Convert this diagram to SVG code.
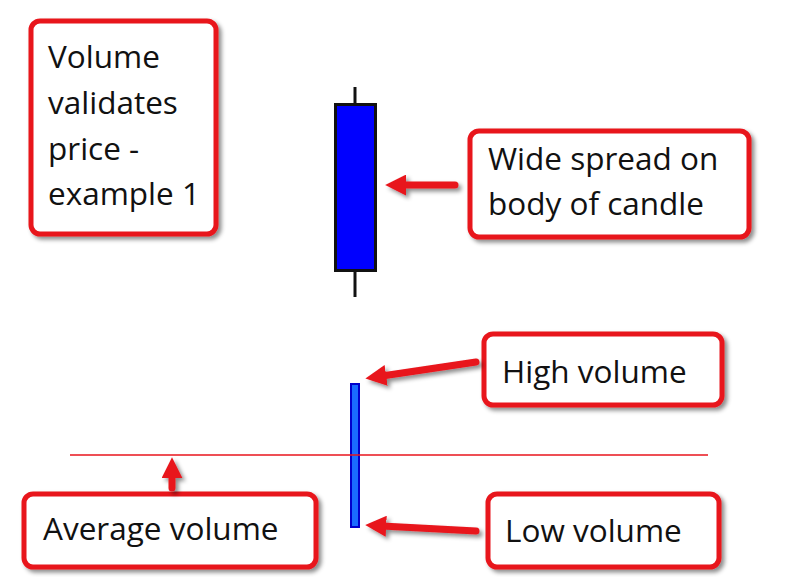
<svg xmlns="http://www.w3.org/2000/svg" width="799" height="577" viewBox="0 0 799 577">
<style>
.box{fill:#fff;stroke:#e8141c;stroke-width:5;filter:url(#sh)}
.t{font-family:"Open Sans","Liberation Sans",sans-serif;font-size:31.5px;fill:#111}
.arr{stroke:#e8141c;stroke-width:7;stroke-linecap:round;fill:none;marker-end:url(#ah)}
</style>
<defs>
<filter id="sh" x="-20%" y="-20%" width="140%" height="140%">
<feDropShadow dx="3" dy="3" stdDeviation="2" flood-color="#000" flood-opacity="0.45"/>
</filter>
<filter id="sh2" filterUnits="userSpaceOnUse" x="0" y="0" width="799" height="577">
<feDropShadow dx="3" dy="3" stdDeviation="2" flood-color="#000" flood-opacity="0.45"/>
</filter>
<marker id="ah" viewBox="0 0 10 10" refX="2" refY="5" markerWidth="3" markerHeight="3" orient="auto" markerUnits="strokeWidth">
<path d="M0,0 L10,5 L0,10 Z" fill="#e8141c"/>
</marker>
</defs>
<rect width="799" height="577" fill="#fff"/>
<g id="title">
<rect class="box" x="31" y="21" width="185" height="213" rx="9"/>
<text class="t" x="48" y="68">Volume</text>
<text class="t" x="48" y="114">validates</text>
<text class="t" x="48" y="160">price -</text>
<text class="t" x="48" y="205">example 1</text>
</g>
<g id="candle">
<line x1="355" y1="87" x2="355" y2="297" stroke="#111" stroke-width="3"/>
<rect x="335.5" y="104.5" width="40" height="166" fill="#0000ff" stroke="#111" stroke-width="3"/>
</g>
<g id="spread">
<rect class="box" x="470" y="131" width="279" height="106" rx="9"/>
<text class="t" x="488" y="170">Wide spread on</text>
<text class="t" x="488" y="215">body of candle</text>
</g>
<g id="volbar">
<rect x="351" y="384" width="8" height="143" fill="#1a6cff" stroke="#0000cc" stroke-width="2"/>
</g>
<g id="avgline">
<line x1="70" y1="455" x2="708" y2="455" stroke="#e8141c" stroke-width="1.5"/>
</g>
<g id="high">
<rect class="box" x="484" y="334" width="238" height="71" rx="9"/>
<text class="t" x="502" y="383">High volume</text>
</g>
<g id="low">
<rect class="box" x="488" y="494" width="231" height="73" rx="9"/>
<text class="t" x="505" y="542">Low volume</text>
</g>
<g id="average">
<rect class="box" x="24" y="494" width="292" height="73" rx="9"/>
<text class="t" x="43" y="540">Average volume</text>
</g>
<g id="connectors" filter="url(#sh2)">
<line class="arr" x1="455" y1="185" x2="402" y2="185"/>
<line class="arr" x1="476" y1="362" x2="382" y2="376"/>
<line class="arr" x1="476" y1="531" x2="382" y2="526"/>
<line class="arr" x1="172" y1="488" x2="172" y2="474"/>
</g>
</svg>
